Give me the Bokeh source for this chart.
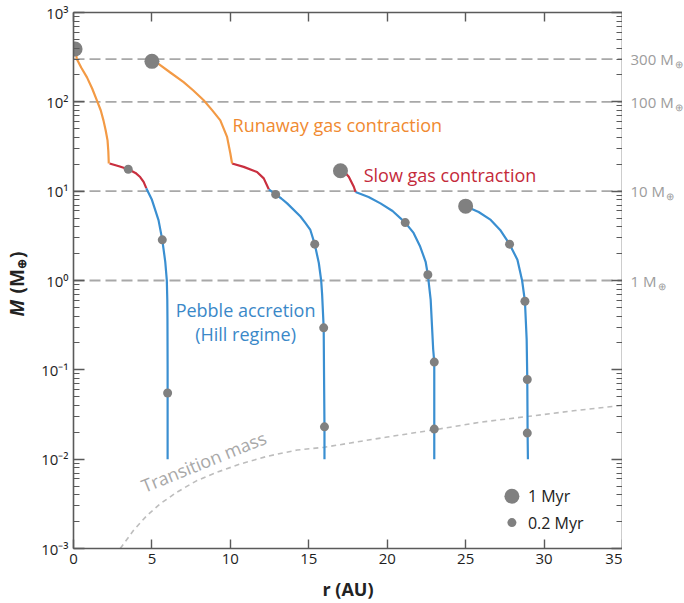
from bokeh.plotting import figure
from bokeh.layouts import row
from bokeh.models import LinearAxis, LogAxis, Label, Span, FixedTicker, LogTicker, CustomJSTickFormatter, Range1d
from bokeh.core.properties import value
from bokeh.embed import file_html
from bokeh.resources import INLINE

FONT = "Open Sans"

# ---- axes / ticks ----
x_ticks = [0, 5, 10, 15, 20, 25, 30, 35]
x_tick_labels = ["0", "5", "10", "15", "20", "25", "30", "35"]
y_ticks = [1e-3, 1e-2, 1e-1, 1, 10, 100, 1000]
y_tick_labels = ["10⁻³", "10⁻²", "10⁻¹", "10⁰", "10¹", "10²", "10³"]
x_title = "r (AU)"

# reference masses (dashed lines, right-hand labels)
ref_masses = [300, 100, 10, 1]
ref_labels = ["300 M", "100 M", "10 M", "1 M"]

# ---- growth tracks (r in AU, M in Earth masses) ----
blue1_r = [6.0, 6.0, 5.99, 5.98, 5.95, 5.85, 5.66, 5.42, 5.0, 4.64]
blue1_m = [0.01, 0.1, 0.366, 0.6, 1.0, 1.62, 2.85, 4.74, 8.0, 10.8]
red1_r = [2.3, 2.9, 3.49, 3.95, 4.25, 4.47, 4.64]
red1_m = [20.4, 19.0, 17.6, 16.0, 14.4, 12.7, 10.8]
orange1_r = [2.25, 2.22, 2.17, 2.05, 1.91, 1.74, 1.49, 1.19, 0.86, 0.49, 0.21, 0.17]
orange1_m = [20.4, 28, 37, 48, 62, 80, 104, 141, 188, 242, 302, 340]

blue2_r = [16.0, 16.0, 15.97, 15.95, 15.85, 15.79, 15.64, 15.38, 15.1, 14.78, 14.47, 13.62, 13.25, 12.89, 12.45]
blue2_m = [0.01, 0.023, 0.1, 0.295, 0.7, 1.0, 1.57, 2.55, 3.68, 4.42, 5.2, 7.3, 8.28, 9.2, 10.5]
red2_r = [10.11, 10.85, 11.7, 12.13, 12.45]
red2_m = [20.4, 18.7, 16.4, 13.9, 10.5]
orange2_r = [10.11, 10.0, 9.79, 9.36, 8.85, 8.3, 7.64, 7.02, 6.17, 5.42, 5.0]
orange2_m = [20.4, 26.4, 40.5, 62, 80.2, 104, 134, 166, 213, 266, 284]

blue3_r = [23.0, 23.0, 23.0, 22.93, 22.77, 22.59, 22.45, 22.1, 21.68, 21.15, 20.34, 19.57, 18.81, 17.98]
blue3_m = [0.01, 0.0217, 0.122, 0.17, 0.61, 1.16, 1.62, 2.4, 3.41, 4.45, 6.0, 7.3, 8.59, 9.8]
red3_r = [17.02, 17.35, 17.55, 17.87, 17.98]
red3_m = [16.9, 15.9, 14.5, 11.2, 9.8]

blue4_r = [25.0, 25.83, 26.6, 27.2, 27.8, 28.3, 28.6, 28.78, 28.89, 28.93, 28.95, 28.97]
blue4_m = [6.8, 5.85, 4.77, 3.68, 2.55, 1.71, 1.0, 0.585, 0.219, 0.078, 0.0196, 0.01]

# time markers
myr1_r = [0.1, 5.0, 17.02, 25.0]
myr1_m = [390, 284, 16.9, 6.8]
myr02_r = [6.0, 5.66, 3.49, 16.0, 15.95, 15.38, 12.89, 23.0, 23.0, 22.59, 21.15, 28.93, 28.93, 28.78, 27.8]
myr02_m = [0.055, 2.85, 17.6, 0.023, 0.295, 2.55, 9.2, 0.0217, 0.122, 1.16, 4.45, 0.0196, 0.078, 0.585, 2.55]

# transition mass curve
trans_r = [2.98, 3.83, 4.68, 5.53, 6.6, 7.87, 9.15, 10.64, 12.34, 14.26, 16.0, 17.66, 20.0, 22.97, 26.0, 28.93, 32.0, 35.0]
trans_m = [0.001, 0.0016, 0.00234, 0.00317, 0.00428, 0.00576, 0.00714, 0.00884, 0.01076, 0.01265,
           0.01358, 0.0152, 0.0177, 0.0213, 0.026, 0.030, 0.035, 0.040]

# legend
legend_labels = ["1 Myr", "0.2 Myr"]
legend_r = 27.95
legend_m = [0.00385, 0.00195]

BLUE = "#3a8fd1"
ORANGE = "#f39a45"
RED = "#c92f3f"
DOT = "#808080"
AXC = "#5a5a5a"

H = 603
TOP, BOT = 12, 53
LW, RW = 32, 62
yr = Range1d(1e-3, 1e3)

def side(width):
    f = figure(width=width, height=H, x_range=Range1d(0, width), y_range=yr, y_axis_type="log",
               x_axis_location=None, y_axis_location=None, output_backend="svg", toolbar_location=None,
               min_border_left=0, min_border_right=0, min_border_top=TOP, min_border_bottom=BOT,
               background_fill_color="white", border_fill_color="white")
    f.outline_line_color = None
    f.grid.visible = False
    return f

p = figure(width=684 - LW - RW, height=H, x_range=Range1d(0, 35), y_range=yr,
           y_axis_type="log", output_backend="svg", toolbar_location=None,
           min_border_left=41, min_border_right=0, min_border_top=TOP, min_border_bottom=BOT,
           background_fill_color="white", border_fill_color="white")
p.outline_line_color = None
p.grid.visible = False

# bottom axis
xa = p.xaxis[0]
xa.ticker = FixedTicker(ticks=x_ticks)
xa.formatter = CustomJSTickFormatter(args=dict(vals=x_ticks, labs=x_tick_labels), code="""
let b = 0; for (let i = 0; i < vals.length; i++) { if (Math.abs(vals[i]-tick) < Math.abs(vals[b]-tick)) b = i; }
return labs[b];""")
xa.axis_label = x_title
xa.axis_label_text_font = FONT
xa.axis_label_text_font_size = "18px"
xa.axis_label_text_font_style = "bold"
xa.axis_label_text_color = "#222222"
xa.axis_label_standoff = 10
# left axis
ya = p.yaxis[0]
ya.ticker = LogTicker(num_minor_ticks=10)
ya.formatter = CustomJSTickFormatter(args=dict(vals=y_ticks, labs=y_tick_labels), code="""
let b = 0; const lt = Math.log10(tick);
for (let i = 0; i < vals.length; i++) { if (Math.abs(Math.log10(vals[i])-lt) < Math.abs(Math.log10(vals[b])-lt)) b = i; }
return labs[b];""")

top = LinearAxis(ticker=FixedTicker(ticks=x_ticks), formatter=CustomJSTickFormatter(code="return ''"))
right = LogAxis(ticker=LogTicker(num_minor_ticks=10), formatter=CustomJSTickFormatter(code="return ''"))
p.add_layout(top, "above")
p.add_layout(right, "right")

for ax in [xa, top]:
    ax.major_tick_in = 9
    ax.major_tick_out = 0
for ax in [ya, right]:
    ax.major_tick_in = 11
    ax.major_tick_out = 0
    ax.minor_tick_in = 6
    ax.minor_tick_out = 0
for ax in [xa, ya, top, right]:
    ax.axis_line_color = AXC
    ax.axis_line_width = 1.6
    ax.major_tick_line_color = AXC
    ax.major_tick_line_width = 1.4
    ax.minor_tick_line_color = AXC if ax in (ya, right) else None
    ax.minor_tick_line_width = 1.2
    ax.major_label_text_font = FONT
    ax.major_label_text_font_size = "15px"
    ax.major_label_text_color = "#1e1e1e"
    ax.major_label_standoff = 5
for ax in [top, right]:
    ax.major_label_text_color = None
    ax.major_label_standoff = 0

# dashed reference lines
for m in ref_masses:
    p.add_layout(Span(location=m, dimension="width", line_color="#a8a8a8", line_width=1.8,
                      line_dash="11 5", level="underlay"))

# transition mass
p.line(trans_r, trans_m, line_color="#bdbdbd", line_width=1.6, line_dash="5 4")

# tracks
for rr, mm, c in [(blue1_r, blue1_m, BLUE), (red1_r, red1_m, RED), (orange1_r, orange1_m, ORANGE),
                  (blue2_r, blue2_m, BLUE), (red2_r, red2_m, RED), (orange2_r, orange2_m, ORANGE),
                  (blue3_r, blue3_m, BLUE), (red3_r, red3_m, RED), (blue4_r, blue4_m, BLUE)]:
    p.line(rr, mm, line_color=c, line_width=2.2)

p.scatter(myr02_r, myr02_m, size=9, fill_color=DOT, line_color=None)
p.scatter(myr1_r, myr1_m, size=15, fill_color=DOT, line_color=None)

# legend
p.scatter([legend_r], [legend_m[0]], size=15, fill_color=DOT, line_color=None)
p.scatter([legend_r], [legend_m[1]], size=9, fill_color=DOT, line_color=None)
for t, m in zip(legend_labels, legend_m):
    p.add_layout(Label(x=legend_r, y=m, x_offset=16, text=t, text_font=FONT, text_font_size="16px",
                       text_color="#222222", text_baseline="middle", text_align="left"))

def lab(x, y, t, color, size, **kw):
    p.add_layout(Label(x=x, y=y, text=t, text_font=FONT, text_font_size=size, text_color=color, **kw))

# phase labels
lab(10.14, 54.6, "Runaway gas contraction", "#f08a30", "18px", text_baseline="middle")
lab(18.5, 15.1, "Slow gas contraction", "#c42a3a", "18px", text_baseline="middle")
lab(10.97, 0.472, "Pebble accretion", "#3a88c8", "18px", text_baseline="middle", text_align="center")
lab(10.97, 0.249, "(Hill regime)", "#3a88c8", "18px", text_baseline="middle", text_align="center")
lab(8.3, 0.0094, "Transition mass", "#a8a8a8", "18px", text_baseline="middle", text_align="center",
    angle=22, angle_units="deg")

# right-hand labels (side strip sharing the y range)
pr = side(RW)
sub_offsets = [44, 44, 35.5, 27]
pr.text(x=[8] * 4, y=ref_masses, text=ref_labels, text_font=value(FONT), text_font_size="15px",
        text_color="#9c9c9c", text_baseline="middle", text_align="left")
for m, so in zip(ref_masses, sub_offsets):
    pr.text(x=[8], y=[m], text=["⊕"], x_offset=so, y_offset=5, text_font=value(FONT),
            text_font_size="10px", text_color="#9c9c9c", text_baseline="middle", text_align="left")

# y-axis title (side strip sharing the y range)
pl = side(LW)
yl = dict(angle=90, angle_units="deg", text_baseline="middle", text_align="left",
          text_font=value(FONT), text_color="#222222")
pl.text(x=[16], y=[1], text=["M"], y_offset=36, text_font_size="19px", text_font_style="bold italic", **yl)
pl.text(x=[16], y=[1], text=["(M"], y_offset=13, text_font_size="19px", text_font_style="bold", **yl)
pl.text(x=[16], y=[1], text=["⊕"], x_offset=5, y_offset=-12, text_font_size="12px", text_font_style="bold", **yl)
pl.text(x=[16], y=[1], text=[")"], y_offset=-22.5, text_font_size="19px", text_font_style="bold", **yl)

layout = row(pl, p, pr, spacing=0)
open("out.html", "w").write(file_html(layout, INLINE))
